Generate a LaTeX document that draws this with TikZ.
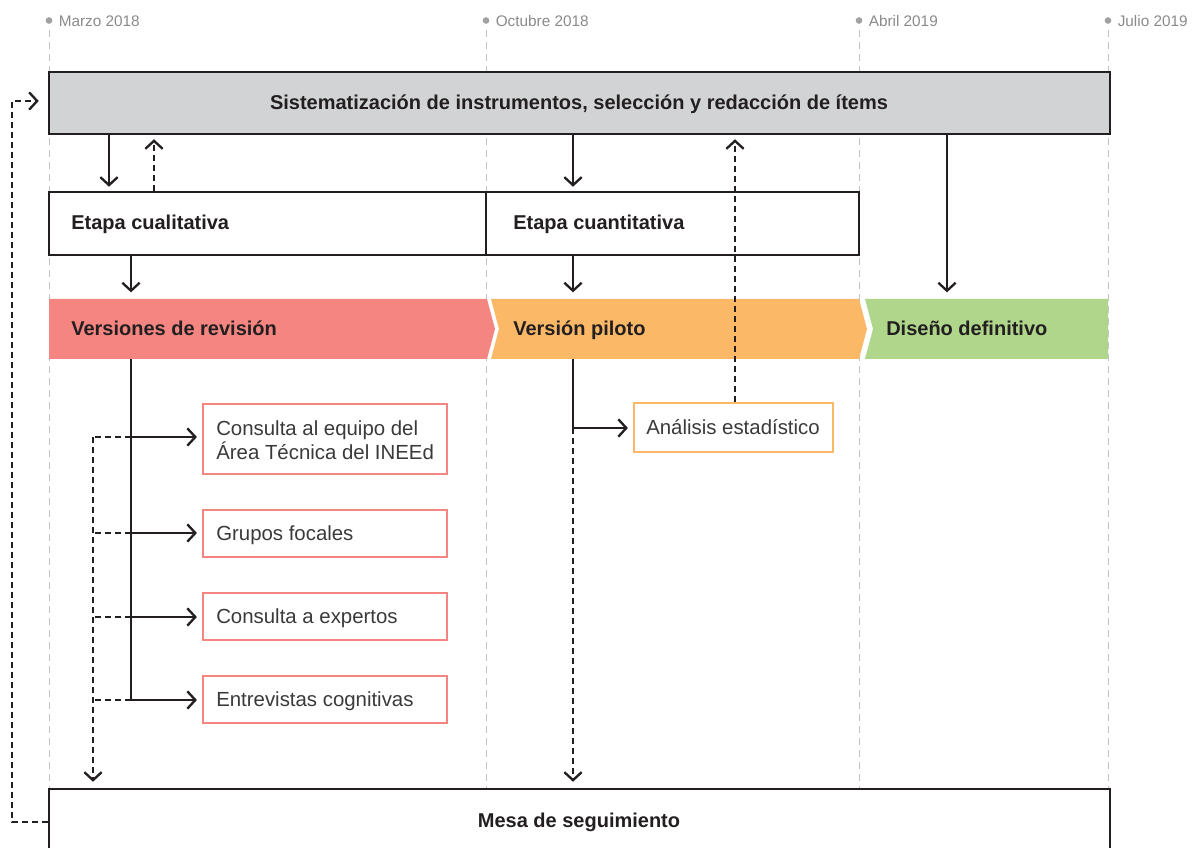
\documentclass[tikz,border=0pt]{standalone}
\usepackage{fontspec}
\setmainfont{Liberation Sans}
\usetikzlibrary{arrows.meta,calc}
\definecolor{ink}{HTML}{231F20}
\definecolor{txt}{HTML}{3A3A3A}
\definecolor{grid}{HTML}{C4C4C4}
\definecolor{datec}{HTML}{8A8A8A}
\definecolor{boxgray}{HTML}{D1D3D4}
\definecolor{redc}{HTML}{F48580}
\definecolor{orac}{HTML}{FBB967}
\definecolor{grec}{HTML}{AFD68A}
\begin{document}
\begin{tikzpicture}[x=0.75pt,y=-0.75pt,
  gridline/.style={grid,line width=0.7pt,dash pattern=on 5pt off 4pt},
  datedot/.style={circle,fill=datec!80,inner sep=0pt,minimum size=5pt},
  datelbl/.style={anchor=west,text=datec,font=\fontsize{11.5}{13}\selectfont,inner sep=0pt},
  bigbox/.style={draw=ink,line width=1.9pt,inner sep=0pt},
  boldtxt/.style={font=\fontsize{15}{18}\bfseries\selectfont,text=ink,inner sep=0pt,text height=11pt,text depth=3.2pt},
  itembox/.style={draw=redc,line width=1.6pt,fill=white,inner sep=0pt,minimum width=183pt},
  itemtxt/.style={font=\fontsize{15.3}{18}\selectfont,text=txt,align=left,inner sep=0pt,anchor=west},
  onetxt/.style={itemtxt,text height=11pt,text depth=3.2pt},
  arr/.style={ink,line width=1.75pt,-{Straight Barb[length=6pt,width=13pt,line width=1.75pt]}},
  sol/.style={ink,line width=1.75pt},
  dsh/.style={ink,line width=1.75pt,dash pattern=on 4.5pt off 3pt},
  darr/.style={dsh,-{Straight Barb[length=6pt,width=13pt,line width=1.75pt]}}
]
\useasboundingbox (0,0) rectangle (1193,848);
\clip (0,0) rectangle (1193,848);

% timeline
\foreach \xx/\lbl/\nm in {49/Marzo 2018/d1,486/Octubre 2018/d2,859/Abril 2019/d3,1108/Julio 2019/d4}{
  \draw[gridline] (\xx,30) -- (\xx,848);
  \node[datedot] (\nm) at (\xx,20.5) {};
  \node[datelbl] at (\xx+9.5,21) {\lbl};
}

% top box
\node[bigbox,fill=boxgray,minimum width=795.75pt,minimum height=46.5pt] (top) at (579.5,103) {};
\node[boldtxt] (toptxt) at (579,104) {Sistematización de instrumentos, selección y redacción de ítems};

% etapa boxes
\node[bigbox,fill=white,minimum width=327.75pt,minimum height=47.25pt] (cual) at (267.5,223.5) {};
\node[boldtxt,anchor=west] (cualtxt) at (71,224.5) {Etapa cualitativa};
\node[bigbox,fill=white,minimum width=279.75pt,minimum height=47.25pt] (cuan) at (672.5,223.5) {};
\node[boldtxt,anchor=west] (cuantxt) at (513,224.5) {Etapa cuantitativa};

% bands
\fill[redc] (49,299) -- (487,299) -- (495,329) -- (487,359) -- (49,359) -- cycle;
\fill[orac] (491,299) -- (859,299) -- (867,329) -- (859,359) -- (491,359) -- (499,329) -- cycle;
\fill[grec] (865,299) -- (1108,299) -- (1108,359) -- (865,359) -- (873,329) -- cycle;
\node[boldtxt,anchor=west] (vrev) at (71,330.5) {Versiones de revisión};
\node[boldtxt,anchor=west] (vpil) at (513,330.5) {Versión piloto};
\node[boldtxt,anchor=west] (vdef) at (886,330.5) {Diseño definitivo};
\coordinate (bandtop) at (0,299);
\coordinate (bandbot) at (0,359);

% item boxes
\node[itembox,minimum height=52.5pt] (c1) at (325,439) {};
\node[itemtxt] at (216,440.5) {Consulta al equipo del\\Área Técnica del INEEd};
\node[itembox,minimum height=35.25pt] (c2) at (325,533.5) {};
\node[onetxt] at (216,535) {Grupos focales};
\node[itembox,minimum height=35.25pt] (c3) at (325,616.5) {};
\node[onetxt] at (216,618) {Consulta a expertos};
\node[itembox,minimum height=35.25pt] (c4) at (325,699.5) {};
\node[onetxt] at (216,701) {Entrevistas cognitivas};

\node[draw=orac,line width=1.6pt,fill=white,inner sep=0pt,minimum width=149.25pt,minimum height=36.75pt] (an) at (733.5,427.5) {};
\node[onetxt] at (646,429) {Análisis estadístico};

% mesa
\node[bigbox,fill=white,minimum width=795.75pt,minimum height=75pt] (mesa) at (579.5,839) {};
\node[boldtxt] (mesatxt) at (579,822) {Mesa de seguimiento};

% connectors top -> etapa
\draw[arr,shorten >=3pt] (top.south -| 109,0) -- (cual.north -| 109,0);
\draw[darr,shorten >=3pt] (cual.north -| 154,0) -- (top.south -| 154,0);
\draw[arr,shorten >=3pt] (top.south -| 573,0) -- (cuan.north -| 573,0);
\draw[arr,shorten >=5pt] (top.south -| 947,0) -- (bandtop -| 947,0);
\draw[darr,shorten >=3pt] (an.north -| 735,0) -- (top.south -| 735,0);

% etapa -> bands
\draw[arr,shorten >=5pt] (cual.south -| 131,0) -- (bandtop -| 131,0);
\draw[arr,shorten >=5pt] (cuan.south -| 573,0) -- (bandtop -| 573,0);

% revision branch
\draw[sol] (bandbot -| 131,0) -- (131,700);
\foreach \n/\yy in {c1/437,c2/533,c3/617,c4/700}{
  \draw[arr,shorten >=3.75pt] (131,\yy) -- (\n.west |- 0,\yy);
  \draw[dsh] (131,\yy) -- (93,\yy);
}
\draw[darr,shorten >=4.5pt] (93,437) -- (mesa.north -| 93,0);

% piloto branch
\draw[sol] (bandbot -| 573,0) -- (573,428);
\draw[arr,shorten >=3.75pt] (573,428) -- (an.west |- 0,428);
\draw[darr,shorten >=4.5pt] (573,428) -- (mesa.north -| 573,0);

% feedback loop
\draw[darr,shorten >=6.75pt] (mesa.west |- 0,822) -- (12,822) -- (12,101) -- (top.west |- 0,101);
\end{tikzpicture}
\end{document}
